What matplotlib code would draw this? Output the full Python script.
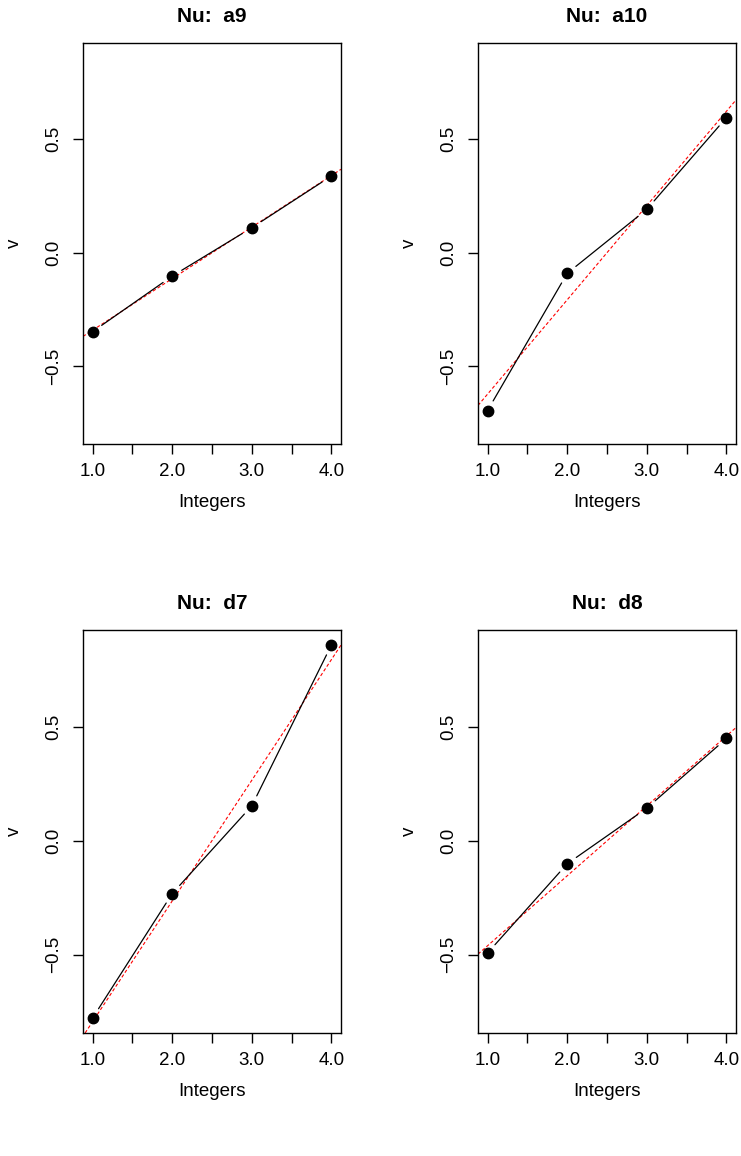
import numpy as np
import matplotlib
matplotlib.use("Agg")
import matplotlib.pyplot as plt

plt.rcParams['font.family'] = ['Liberation Sans', 'DejaVu Sans']

x = [1, 2, 3, 4]
names = ["a9", "a10", "d7", "d8"]
a9 = [-0.348, -0.103, 0.110, 0.338]
a10 = [-0.695, -0.091, 0.191, 0.595]
d7 = [-0.777, -0.232, 0.153, 0.858]
d8 = [-0.492, -0.101, 0.143, 0.448]
series = [a9, a10, d7, d8]

xticks = [1.0, 1.5, 2.0, 2.5, 3.0, 3.5, 4.0]
xticklabels = ["1.0", "", "2.0", "", "3.0", "", "4.0"]
yticks = [-0.5, 0.0, 0.5]
yticklabels = ["\u22120.5", "0.0", "0.5"]

W, H = 741, 1156
fig = plt.figure(figsize=(W / 100, H / 100), dpi=100)

# axes boxes in pixels (left, top, right, bottom)
boxes = [(83, 43, 341, 444), (478, 43, 736, 444),
         (83, 630, 341, 1033), (478, 630, 736, 1033)]

# shared limits like R (data range + 4%)
ally = np.concatenate([np.array(s) for s in series])
ymin, ymax = ally.min(), ally.max()
pad = 0.04 * (ymax - ymin)
ylim = (ymin - pad, ymax + pad)
xlim = (1 - 0.12, 4 + 0.12)

for name, y, (l, t, r, b) in zip(names, series, boxes):
    ax = fig.add_axes([l / W, 1 - b / H, (r - l) / W, (b - t) / H])
    ax.set_xlim(xlim)
    ax.set_ylim(ylim)

    # regression line
    slope, icpt = np.polyfit(x, y, 1)
    ax.axline((0, icpt), slope=slope, color="red", ls=(0, (3, 2)), lw=0.8)

    # R type="b": segments with gaps around points
    for i in range(len(x) - 1):
        ax.annotate("", xy=(x[i + 1], y[i + 1]), xytext=(x[i], y[i]),
                    arrowprops=dict(arrowstyle="-", color="black", lw=0.9,
                                    shrinkA=8, shrinkB=8))
    ax.plot(x, y, "o", color="black", ms=7.5, zorder=3)

    ax.set_xticks(xticks)
    ax.set_xticklabels(xticklabels, fontsize=13.5)
    ax.set_yticks(yticks)
    ax.set_yticklabels(yticklabels, fontsize=13.5, rotation=90, va="center")
    ax.tick_params(direction="out", length=7, width=1)
    ax.tick_params(axis="x", pad=7)
    ax.tick_params(axis="y", pad=8)
    for s in ax.spines.values():
        s.set_linewidth(1)
    ax.set_xlabel("Integers", fontsize=13.5, labelpad=10)
    ax.set_ylabel("v", fontsize=13.5, labelpad=16)
    ax.set_title("Nu:  " + name, fontsize=15, fontweight="bold", pad=15)

fig.savefig("out.png", dpi=100)
